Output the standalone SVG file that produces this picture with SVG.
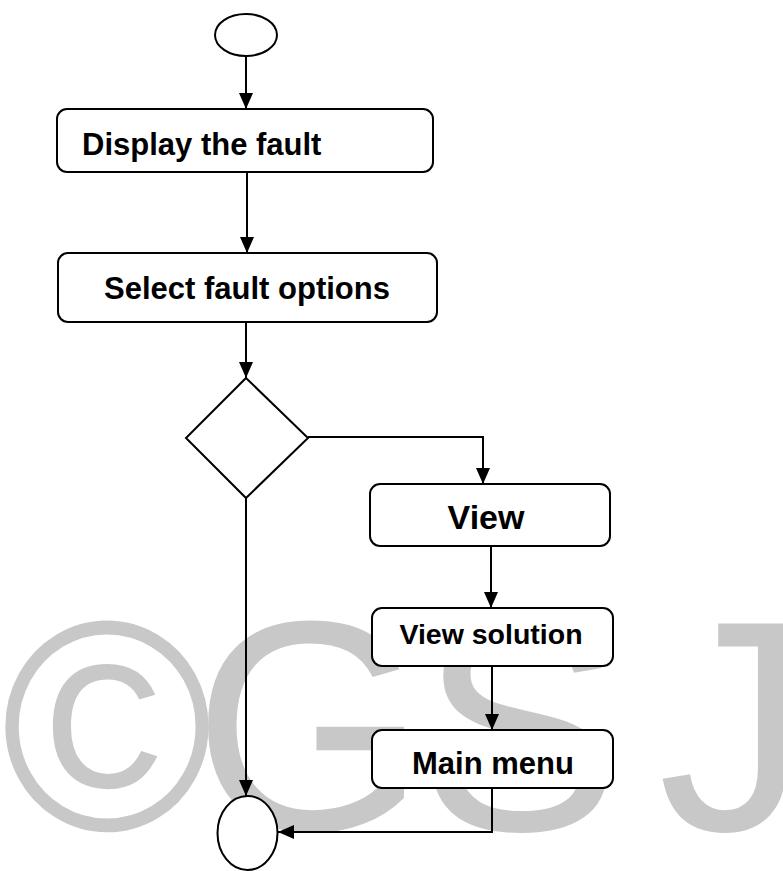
<svg xmlns="http://www.w3.org/2000/svg" width="783" height="871" viewBox="0 0 783 871">
<style>
.wm{font-family:"Liberation Sans",Arial,sans-serif;font-size:300px;fill:#c8c8c8}
.node{fill:#fff;stroke:#000;stroke-width:2}
.lbl{font-family:"Liberation Sans",Arial,sans-serif;font-weight:bold;fill:#000}
.edge{fill:none;stroke:#000;stroke-width:2}
</style>
<defs>
<marker id="arr" markerUnits="userSpaceOnUse" markerWidth="16" markerHeight="14" refX="16" refY="7" orient="auto">
<path d="M0,0 L16,7 L0,14 z" fill="#000"/>
</marker>
</defs>
<rect width="783" height="871" fill="#fff"/>
<g id="watermark">
<text class="wm" x="1" y="830" textLength="212" lengthAdjust="spacingAndGlyphs">©</text>
<text class="wm" x="193" y="830">G</text>
<text class="wm" x="420" y="830">S</text>
<text class="wm" x="658" y="830">J</text>
</g>
<g id="connectors">
<path class="edge" d="M246,56 V109" marker-end="url(#arr)"/>
<path class="edge" d="M247,172 V253" marker-end="url(#arr)"/>
<path class="edge" d="M246,322 V378" marker-end="url(#arr)"/>
<path class="edge" d="M308,437 H483 V484" marker-end="url(#arr)"/>
<path class="edge" d="M491,546 V608" marker-end="url(#arr)"/>
<path class="edge" d="M492,666 V730" marker-end="url(#arr)"/>
<path class="edge" d="M492,788 V832 H278" marker-end="url(#arr)"/>
<path class="edge" d="M246,498 V796" marker-end="url(#arr)"/>
</g>
<g id="start"><ellipse class="node" cx="246" cy="35" rx="31" ry="21"/></g>
<g id="display"><rect class="node" x="57" y="109" width="376" height="63" rx="10"/><text class="lbl" x="82" y="155" font-size="31">Display the fault</text></g>
<g id="select"><rect class="node" x="58" y="253" width="379" height="69" rx="10"/><text class="lbl" x="247" y="299" font-size="31" text-anchor="middle">Select fault options</text></g>
<g id="decision"><path class="node" d="M246,378 L308,438 L246,498 L186,438 z"/></g>
<g id="view"><rect class="node" x="370" y="484" width="240" height="62" rx="10"/><text class="lbl" x="486" y="529" font-size="34" text-anchor="middle">View</text></g>
<g id="viewsolution"><rect class="node" x="372" y="608" width="241" height="58" rx="10"/><text class="lbl" x="491" y="644" font-size="28.5" text-anchor="middle">View solution</text></g>
<g id="mainmenu"><rect class="node" x="372" y="730" width="241" height="58" rx="10"/><text class="lbl" x="493" y="774" font-size="31" text-anchor="middle">Main menu</text></g>
<g id="end"><ellipse class="node" cx="247.5" cy="833" rx="30" ry="37"/></g>
</svg>
